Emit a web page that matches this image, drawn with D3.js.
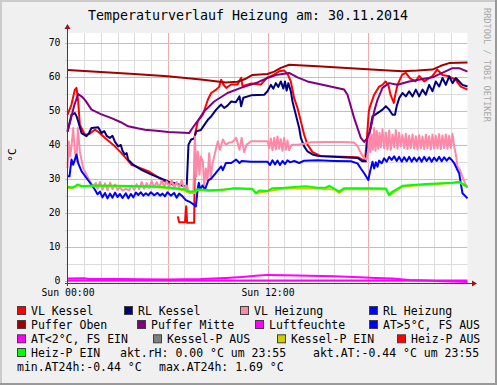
<!DOCTYPE html>
<html>
<head>
<meta charset="utf-8">
<script src="https://cdn.jsdelivr.net/npm/d3@7"></script>
<style>
body { margin: 0; background: #fff; }
svg text { font-family: "DejaVu Sans Mono", monospace; fill: #000; }
</style>
</head>
<body>
<div id="chart"></div>
<script>
// [hour since 00:00, °C], 30.11.2014
var vlKessel = [[0,48.8],[0.24,51.8],[0.44,56.2],[0.54,56.7],[0.64,52.8],[0.74,45.9],[1.04,42.9],[1.3,43.1],[1.64,44.4],[1.84,43.8],[2.24,42.0],[2.84,39.5],[3.24,37.5],[3.84,34.1],[4.84,32.2],[5.84,29.2],[6.3,28.3],[6.5,27.9],[6.56,null],
  [6.62,18.9],[6.7,17.2],[7.05,17.2],[7.12,21.9],[7.18,17.0],[7.6,17.0],[7.65,43.0],[7.82,46.9],[8.12,48.8],[8.42,53.2],[8.62,55.2],[8.92,56.2],[9.1,57.0],[9.22,59.1],[9.35,57.7],[9.52,56.7],[9.82,57.7],[10.2,57.7],[10.42,59.7],[10.5,57.2],[11.02,58.0],[11.6,57.7],
  [12.0,59.8],[12.4,60.6],[12.7,61.6],[13.0,61.8],[13.2,60.8],[13.4,58.6],[13.6,53.7],[13.8,50.8],[14.0,46.9],[14.2,42.9],[14.4,40.0],[14.7,37.8],[15.2,36.6],[16,36.5],[17.4,36.3],[17.7,35.6],[17.85,35.3],[17.95,41.0],[18.08,49.8],[18.15,51.2],[18.4,54.7],[18.7,57.1],[18.9,57.6],[19.08,58.6],[19.25,57.6],[19.38,54.7],[19.58,52.3],[19.68,55.0],[19.8,57.6],[20.08,60.6],[20.3,61.1],[20.55,59.5],[20.88,58.6],[21.1,60.2],[21.4,58.6],[21.88,60.1],[22.18,62.1],[22.5,60.5],[22.88,60.1],[23.28,59.1],[23.6,57.1],[24,56.2]];

var rlKessel = [[0,43.9],[0.24,48.8],[0.44,49.3],[0.54,48.4],[0.64,46.9],[0.84,43.4],[1.14,42.5],[1.3,43.5],[1.44,44.9],[1.84,45.1],[2.04,43.4],[2.2,44.0],[2.35,42.6],[2.54,42.0],[2.7,42.6],[2.85,40.8],[3.04,39.5],[3.2,39.9],[3.3,38.2],[3.44,37.1],[3.55,37.5],[3.64,35.6],[3.94,34.1],[4.44,32.6],[5.04,31.2],[5.64,30.0],[6.04,29.2],[6.5,28.6],[7.02,27.7],[7.15,27.4],
  [7.26,40.0],[7.42,41.5],[7.6,41.8],[7.72,43.9],[8.0,44.3],[8.22,45.9],[8.45,47.5],[8.62,48.3],[8.92,50.3],[9.22,51.8],[9.4,50.8],[9.6,51.5],[9.82,52.7],[10.1,52.5],[10.32,54.2],[10.42,51.3],[10.55,53.8],[11.02,54.5],[11.8,54.7],
  [12.0,55.7],[12.2,57.6],[12.35,56.5],[12.5,58.1],[12.65,57.0],[12.8,58.6],[12.95,56.5],[13.05,58.6],[13.15,55.9],[13.25,58.1],[13.4,55.7],[13.5,52.7],[13.7,48.8],[13.9,44.9],[14.0,42.0],[14.2,39.5],[14.4,38.0],[14.7,37.1],[15.0,36.7],[16.5,36.3],[17.4,36.1],[17.7,35.1],[17.9,35.1],[18.0,41.0],[18.1,42.9],[18.3,48.3],[18.6,49.3],[18.9,50.3],[19.1,51.3],[19.3,50.3],[19.5,48.8],[19.65,48.8],[19.75,51.3],[19.9,53.7],[20.1,55.2],[20.3,54.2],[20.5,55.7],[20.7,54.2],[20.9,56.2],[21.1,54.2],[21.3,56.2],[21.5,54.7],[21.7,57.6],[21.9,55.7],[22.1,58.6],[22.3,57.1],[22.5,59.6],[22.7,57.6],[22.9,60.1],[23.1,58.1],[23.3,59.6],[23.5,58.6],[23.7,57.6],[24,57.1]];

var vlHeizung = [[0,33.1],[0.08,40.9],[0.16,36.5],[0.24,39.5],[0.34,44.9],[0.44,38.0],[0.54,35.1],[0.62,44.9],[0.74,38.0],[0.94,33.1],[1.14,31.2],[1.34,29.2],[1.54,27.7],[1.7,28.8],
  [1.8,27.0],[1.95,29.0],[2.1,26.8],[2.25,28.6],[2.4,26.6],[2.55,28.8],[2.7,26.9],[2.85,28.3],[3.0,26.7],[3.15,27.5],[3.3,26.5],[3.5,27.0],[3.7,26.6],[3.85,28.0],[4.0,26.7],[4.15,28.4],[4.3,26.9],[4.45,29.0],[4.6,27.0],[4.75,28.7],[4.9,27.2],[5.05,29.3],[5.2,27.4],[5.35,29.0],[5.5,27.4],[5.65,29.4],[5.8,27.5],[5.95,29.2],[6.1,27.4],[6.25,29.5],[6.4,27.6],[6.55,29.0],[6.7,27.3],[6.85,29.6],[7.0,27.0],[7.15,28.0],[7.3,26.0],[7.55,25.7],
  [7.65,42.4],[7.72,30.6],[7.82,38.0],[7.92,31.2],[8.0,36.5],[8.12,35.1],[8.2,28.0],[8.3,33.0],[8.4,29.5],[8.5,37.5],[8.6,30.5],[8.7,34.3],[8.92,39.0],[9.02,41.0],[9.15,38.5],[9.32,41.5],[9.5,40.0],[9.7,40.6],[9.9,40.8],[10.12,42.0],[10.32,38.5],[10.45,42.0],[10.6,37.8],[10.75,40.0],[11.02,41.0],[11.5,41.0],
  [12.0,41.0],[12.1,39.0],[12.2,41.8],[12.3,38.4],[12.4,42.0],[12.5,38.6],[12.6,42.4],[12.7,38.8],[12.8,41.6],[12.9,38.2],[13.0,42.0],[13.1,38.5],[13.2,41.2],[13.3,38.4],[13.45,40.0],[13.8,40.0],[14.2,40.3],[14.6,40.7],[15.5,40.8],[16.5,40.8],[17.2,40.6],[17.4,39.6],[17.6,37.5],[17.8,36.1],[17.95,35.6],[18.05,39.0],
  [18.1,43.9],[18.17,37.8],[18.25,43.0],[18.33,38.5],[18.4,44.9],[18.48,38.2],[18.56,44.0],[18.64,38.8],[18.72,43.5],[18.8,39.2],[18.9,44.5],[19.0,39.0],[19.1,43.6],[19.2,38.6],[19.3,44.2],[19.4,38.5],[19.5,43.0],[19.6,39.2],[19.7,44.3],[19.8,38.8],[19.9,43.5],[20.0,39.5],[20.1,42.8],[20.2,39.0],[20.3,43.2],[20.4,38.7],[20.5,42.6],[20.6,39.0],[20.7,43.0],[20.8,38.8],[20.9,42.5],[21.0,38.6],[21.1,42.8],[21.2,38.9],[21.3,42.4],[21.4,38.7],[21.5,42.9],[21.6,39.0],[21.7,42.5],[21.8,38.6],[21.9,43.0],[22.0,38.8],[22.1,42.6],[22.2,38.9],[22.3,43.1],[22.4,38.7],[22.5,42.7],[22.6,39.0],[22.7,43.0],[22.8,38.8],[22.9,42.6],[23.0,39.0],[23.1,43.2],[23.2,39.5],[23.3,37.1],[23.4,33.6],[23.55,32.5],[23.8,29.2],[24.0,27.3]];

var rlHeizung = [[0,30.7],[0.12,30.7],[0.24,35.6],[0.34,34.1],[0.44,35.6],[0.54,37.1],[0.64,34.6],[0.84,32.2],[1.14,30.2],[1.44,28.2],[1.64,26.8],[1.8,25.4],[1.95,26.2],[2.1,24.5],[2.25,25.8],[2.4,24.2],[2.55,25.6],[2.7,24.4],[2.85,25.9],[3.0,24.6],[3.15,25.5],[3.3,24.3],[3.5,25.7],[3.65,24.2],[3.8,25.5],[3.95,24.5],[4.1,25.9],[4.25,25.2],[4.4,26.0],[4.55,25.0],[4.7,25.7],[4.85,25.1],[5.0,26.0],[5.2,25.1],[5.4,25.8],[5.55,25.0],[5.7,25.6],[5.85,24.8],[6.0,26.0],[6.2,25.0],[6.4,25.8],[6.55,24.4],[6.7,25.6],[6.9,24.8],[7.1,23.7],[7.4,23.0],[7.6,22.3],[7.7,21.8],
  [7.82,27.3],[7.88,28.8],[7.95,26.8],[8.1,28.0],[8.25,26.8],[8.45,29.5],[8.62,30.0],[8.82,31.2],[8.95,32.0],[9.22,33.6],[9.32,32.5],[9.5,34.6],[9.82,34.6],[10.12,35.6],[10.32,34.6],[10.45,35.2],[11.0,35.0],
  [12.0,35.0],[12.15,34.0],[12.3,35.4],[12.45,34.2],[12.6,35.3],[12.75,34.0],[12.9,35.2],[13.05,34.3],[13.2,35.4],[13.35,34.8],[13.6,35.2],[13.9,34.6],[14.2,35.3],[15,35.4],[16,35.2],[17,35.1],[17.4,34.5],[17.6,33.0],[17.8,31.6],[18.05,29.6],[18.15,32.0],[18.3,35.0],[18.4,33.0],[18.5,34.8],[18.6,33.5],[18.7,35.3],[18.85,34.5],[19.0,36.0],[19.15,35.0],[19.3,36.4],[19.45,35.5],[19.6,36.6],[19.75,35.2],[19.9,36.4],[20.05,35.0],[20.2,36.3],[20.35,35.1],[20.5,36.4],[20.65,35.0],[20.8,36.2],[20.95,35.1],[21.1,36.3],[21.25,35.0],[21.4,36.4],[21.55,35.2],[21.7,36.3],[21.85,35.0],[22.0,36.2],[22.15,35.2],[22.3,36.4],[22.45,35.1],[22.6,36.3],[22.75,35.3],[22.9,36.2],[23.05,35.5],[23.2,34.6],[23.35,33.0],[23.5,31.6],[23.6,28.5],[23.7,25.7],[24.0,24.2]];

var pufferOben = [[0,62.0],[2,61.4],[4,60.8],[6,60.1],[8,59.2],[9.5,58.3],[10.2,58.5],[10.7,59.4],[11.1,60.5],[12,60.8],[12.4,61.5],[12.8,62.6],[13.3,63.5],[15,63.1],[17,62.5],[18,62.2],[19,61.9],[20.1,61.6],[21,61.8],[21.9,62.1],[22.4,63.2],[22.9,64.0],[24,64.2]];

var pufferMitte = [[0,43.8],[0.2,47.5],[0.4,51.5],[0.64,54.9],[0.9,54.0],[1.1,52.8],[1.44,50.3],[2,49.0],[2.64,47.8],[3.2,46.6],[3.64,45.4],[4.2,44.8],[4.64,44.4],[5.5,44.0],[6.04,43.7],[7.3,43.4],[7.5,44.9],[7.8,46.9],[8.2,49.8],[8.8,52.7],[9.6,55.2],[10.4,56.7],[11.4,58.3],[12.0,59.6],[12.6,60.6],[13.3,61.1],[13.8,59.8],[14.4,58.6],[15.5,57.4],[16.6,56.2],[16.8,54.7],[17.2,47.8],[17.6,42.0],[17.8,40.8],[18.0,42.0],[18.2,44.9],[18.4,49.8],[18.6,53.2],[18.9,56.7],[19.3,58.1],[19.8,57.6],[20.5,58.6],[21.9,59.8],[23.1,62.5],[23.5,62.5],[24,61.5]];

var luftfeuchte = [[0,0],[24,0]];

var aussenTemp = [[0,0.6],[1,0.7],[1.3,0.5],[3,0.45],[6,0.35],[8,0.5],[9.5,0.8],[10.5,1.1],[11.3,1.4],[12,1.69],[13,1.6],[14.5,1.45],[16,1.3],[17.5,1.0],[18.5,0.8],[19.5,0.6],[20.5,0.2],[21.5,0.0],[22.5,-0.2],[23.5,-0.35],[24,-0.44]];

var kesselPEin = [[0,27.2],[0.3,27.2],[0.6,28.1],[1,27.8],[3,27.8],[5,27.6],[6.5,27.0],[7.0,26.5],[7.3,25.8],[7.6,25.8],[7.8,26.7],[8.5,26.4],[10,27.1],[11.1,26.9],[11.3,25.7],[12,26.3],[13,27.1],[15,27.1],[16.0,26.8],[16.3,25.8],[16.6,26.9],[19.1,26.9],[19.3,25.1],[20.1,27.7],[21.5,28.2],[23.5,28.9],[24,27.4]];

var heizPEin = [[0,27.6],[0.3,27.4],[0.5,27.9],[0.6,28.3],[0.8,27.8],[1.5,28.0],[3,27.9],[4.5,27.8],[5.5,27.6],[6.5,27.2],[7.0,26.9],[7.3,26.2],[7.6,26.2],[7.8,26.9],[8.5,26.6],[9.3,26.7],[10,27.2],[11.1,27.0],[11.3,25.7],[11.5,26.5],[12.0,26.4],[12.3,27.2],[13.0,27.3],[14.3,27.8],[15.0,27.3],[15.5,27.4],[15.7,27.9],[16.0,27.1],[16.3,26.2],[16.6,27.2],[18.0,27.2],[19.1,27.1],[19.3,25.2],[19.5,26.2],[20.1,27.9],[21.5,28.4],[23.1,28.8],[23.5,29.1],[24,27.6]];

var legendNames = ["VL Kessel", "RL Kessel", "VL Heizung", "RL Heizung",
  "Puffer Oben", "Puffer Mitte", "Luftfeuchte", "AT>5°C, FS AUS",
  "AT<2°C, FS EIN", "Kessel-P AUS", "Kessel-P EIN", "Heiz-P AUS",
  "Heiz-P EIN"];
var legendColors = ["#FF0000", "#000080", "#FF88A8", "#0000FF",
  "#A00000", "#800080", "#FF00FF", "#0000FF",
  "#FF00FF", "#808080", "#CCCC00", "#FF0000",
  "#00FF00"];

var aktRH = 0.00, aktAT = -0.44, minAT24h = -0.44, maxAT24h = 1.69, lastTime = "23:55";
var xLabels = [0, 12];
var yLabels = [0, 10, 20, 30, 40, 50, 60, 70];

var width = 497,
	height = 385;

var x = d3.scaleLinear().domain([0, 24]).range([67.5, 467.5]);
var y = d3.scaleLinear().domain([-0.7, 72.85]).range([283, 33]);

var svg = d3.select("#chart")
	.append("svg")
	.attr("width", width)
	.attr("height", height);

// frame
svg.append("rect").attr("width", width).attr("height", height).attr("fill", "#F0F0F0");
svg.append("path").attr("d", "M0,0H497V2H2V385H0Z").attr("fill", "#CBCBCB");
svg.append("path").attr("d", "M497,0V385H0V383H495V0Z").attr("fill", "#999999");

// canvas
svg.append("rect")
	.attr("x", x(0)).attr("y", 33)
	.attr("width", x(24) - x(0)).attr("height", 283 - 33)
	.attr("fill", "#FFFFFF");

// grid
var hours = d3.range(1, 24);
svg.append("g").selectAll("line")
	.data(hours)
	.enter().append("line")
	.attr("x1", function(d) { return Math.round(x(d)) + 0.5; })
	.attr("x2", function(d) { return Math.round(x(d)) + 0.5; })
	.attr("y1", 33).attr("y2", 285)
	.attr("stroke", function(d) { return d % 6 == 0 ? "#F2AAAA" : "#DCDCDC"; })
	.attr("stroke-width", 1);

var levels = d3.range(0, 71, 5);
svg.append("g").selectAll("line")
	.data(levels)
	.enter().append("line")
	.attr("x1", 65).attr("x2", x(24))
	.attr("y1", function(d) { return Math.round(y(d)) + 0.5; })
	.attr("y2", function(d) { return Math.round(y(d)) + 0.5; })
	.attr("stroke", function(d) { return d % 10 == 0 ? "#F2AAAA" : "#DCDCDC"; })
	.attr("stroke-width", 1);

// series, drawn in rrd order
var line = d3.line()
	.defined(function(d) { return d[1] != null; })
	.x(function(d) { return x(d[0]); })
	.y(function(d) { return y(d[1]); });

var series = [
	[vlKessel, "#FF0000"],
	[rlKessel, "#000080"],
	[vlHeizung, "#FF88A8"],
	[rlHeizung, "#0000FF"],
	[pufferOben, "#A00000"],
	[pufferMitte, "#800080"],
	[luftfeuchte, "#FF00FF"],
	[aussenTemp, "#FF00FF"],
	[kesselPEin, "#CCCC00"],
	[heizPEin, "#00FF00"]
];

svg.append("g").selectAll("path")
	.data(series)
	.enter().append("path")
	.attr("d", function(d) { return line(d[0]); })
	.attr("fill", "none")
	.attr("stroke", function(d) { return d[1]; })
	.attr("stroke-width", 2)
	.attr("stroke-linejoin", "round");

// axes
var yAxis = svg.append("g")
	.attr("transform", "translate(" + x(0) + ",0)")
	.call(d3.axisLeft(y).tickValues(yLabels).tickSize(0).tickPadding(7));
yAxis.select(".domain").remove();
yAxis.selectAll("text").style("font-size", "9.8px").style("font-family", "DejaVu Sans Mono");

var xAxis = svg.append("g")
	.attr("transform", "translate(0,283)")
	.call(d3.axisBottom(x).tickValues(xLabels).tickSize(0).tickPadding(6)
		.tickFormat(function(d) { return "Sun " + d3.format("02")(d) + ":00"; }));
xAxis.select(".domain").remove();
xAxis.selectAll("text").style("font-size", "9.8px").style("font-family", "DejaVu Sans Mono");

svg.append("line").attr("x1", 65).attr("x2", 472).attr("y1", 283.5).attr("y2", 283.5)
	.attr("stroke", "#404040").attr("stroke-width", 1);
svg.append("line").attr("x1", 67.5).attr("x2", 67.5).attr("y1", 286).attr("y2", 29)
	.attr("stroke", "#404040").attr("stroke-width", 1);
svg.append("path").attr("d", "M472,280.5L477,283.5L472,286.5Z").attr("fill", "#8B1A1A");
svg.append("path").attr("d", "M64.5,29L67.5,24L70.5,29Z").attr("fill", "#8B1A1A");

// title and labels
svg.append("text")
	.attr("x", 248).attr("y", 20)
	.attr("text-anchor", "middle")
	.style("font-size", "13.3px")
	.text("Temperaturverlauf Heizung am: 30.11.2014");

svg.append("text")
	.attr("transform", "translate(16,155) rotate(-90)")
	.attr("text-anchor", "middle")
	.style("font-size", "11px")
	.text("°C");

svg.append("text")
	.attr("transform", "translate(484,8) rotate(90)")
	.style("font-size", "8.6px")
	.style("fill", "#AAAAAA")
	.text("RRDTOOL / TOBI OETIKER");

// legend
var legendX = [17, 124, 240, 369, 17, 137, 255, 369, 17, 153, 277, 397, 17];
var rowY = [315, 329, 343.3, 357, 371.3];

var leg = svg.append("g").selectAll("g")
	.data(legendNames)
	.enter().append("g")
	.attr("transform", function(d, i) { return "translate(" + legendX[i] + "," + rowY[Math.floor(i / 4)] + ")"; });

leg.append("rect")
	.attr("x", 0.5).attr("y", -8.5)
	.attr("width", 8).attr("height", 8)
	.attr("fill", function(d, i) { return legendColors[i]; })
	.attr("stroke", "#404040").attr("stroke-width", 1);

leg.append("text")
	.attr("x", 14).attr("y", 0)
	.style("font-size", "11.5px")
	.text(function(d) { return d; });

function f2(v) { return v.toFixed(2); }
var stats = [
	[120, rowY[3], "akt.rH: " + f2(aktRH) + " °C um " + lastTime],
	[313, rowY[3], "akt.AT:" + f2(aktAT) + " °C um " + lastTime],
	[17, rowY[4], "min.AT24h:" + f2(minAT24h) + " °C"],
	[159, rowY[4], "max.AT24h: " + f2(maxAT24h) + " °C"]
];
svg.append("g").selectAll("text")
	.data(stats)
	.enter().append("text")
	.attr("x", function(d) { return d[0]; })
	.attr("y", function(d) { return d[1]; })
	.style("font-size", "11.5px")
	.style("white-space", "pre")
	.text(function(d) { return d[2]; });
</script>
</body>
</html>
